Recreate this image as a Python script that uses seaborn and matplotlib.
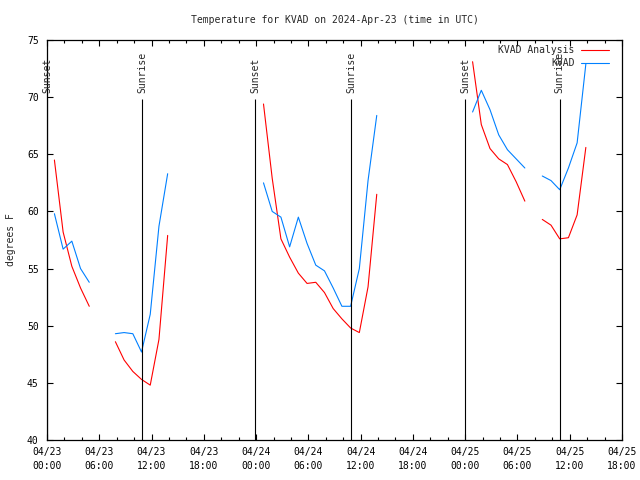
import numpy as np
import pandas as pd
import matplotlib
matplotlib.use('Agg')
import matplotlib.pyplot as plt
import matplotlib.dates as mdates
import seaborn as sns

# hourly observations starting 04/23 00:51 UTC, nan = missing
first_obs = '2024-04-23 00:51'
analysis_f = [64.5, 58.2, 55.2, 53.3, 51.7, np.nan, np.nan,
              48.6, 47.0, 46.0, 45.3, 44.8, 48.8, 57.9,
              np.nan, np.nan, np.nan, np.nan, np.nan, np.nan, np.nan, np.nan, np.nan, np.nan,
              69.4, 62.9, 57.6, 56.0, 54.6, 53.7, 53.8, 52.9, 51.5, 50.6, 49.8, 49.4, 53.4, 61.5,
              np.nan, np.nan, np.nan, np.nan, np.nan, np.nan, np.nan, np.nan, np.nan, np.nan,
              73.1, 67.6, 65.5, 64.6, 64.1, 62.6, 60.9, np.nan,
              59.3, 58.8, 57.6, 57.7, 59.7, 65.6]
observed_f = [59.8, 56.7, 57.4, 55.0, 53.8, np.nan, np.nan,
              49.3, 49.4, 49.3, 47.7, 51.0, 58.7, 63.3,
              np.nan, np.nan, np.nan, np.nan, np.nan, np.nan, np.nan, np.nan, np.nan, np.nan,
              62.5, 60.0, 59.5, 56.9, 59.5, 57.2, 55.3, 54.8, 53.3, 51.7, 51.7, 55.0, 62.7, 68.4,
              np.nan, np.nan, np.nan, np.nan, np.nan, np.nan, np.nan, np.nan, np.nan, np.nan,
              68.7, 70.6, 68.9, 66.7, 65.4, 64.6, 63.8, np.nan,
              63.1, 62.7, 61.9, 63.8, 66.0, 72.9]
series_names = ['KVAD Analysis', 'KVAD']
series_colors = ['#ff0000', '#0080ff']

sun_times = ['2024-04-23 00:00', '2024-04-23 10:56', '2024-04-23 23:55',
             '2024-04-24 10:56', '2024-04-25 00:00', '2024-04-25 10:52']
sun_labels = ['Sunset', 'Sunrise', 'Sunset', 'Sunrise', 'Sunset', 'Sunrise']

times = pd.date_range(first_obs, periods=len(analysis_f), freq='h')
frames = []
for name, vals in zip(series_names, [analysis_f, observed_f]):
    s = pd.Series(vals, index=times)
    seg = s.isna().cumsum()
    part = pd.DataFrame({'time': times, 'temp': s.values, 'seg': seg.values, 'series': name})
    frames.append(part.dropna())
df = pd.concat(frames, ignore_index=True)

sns.set_theme(style='ticks')
plt.rcParams['font.family'] = ['DejaVu Sans Mono']
plt.rcParams['font.size'] = 7

fig = plt.figure(figsize=(6.4, 4.8), dpi=100)
ax = fig.add_axes([47 / 640, 40 / 480, 575 / 640, 400 / 480])

sns.lineplot(data=df, x='time', y='temp', hue='series', units='seg', estimator=None,
             palette=dict(zip(series_names, series_colors)), linewidth=0.8,
             legend=False, ax=ax)

# sunrise / sunset markers
for t, lab in zip(sun_times, sun_labels):
    xv = mdates.date2num(pd.Timestamp(t))
    ax.vlines(xv, 40, 69.8, color='black', linewidth=0.8)
    ax.text(xv, 70.4, lab, rotation=90, ha='center', va='bottom', fontsize=7)

ax.set_xlim(pd.Timestamp('2024-04-23 00:00'), pd.Timestamp('2024-04-25 18:00'))
ax.set_ylim(40, 75)
ax.set_yticks(range(40, 76, 5))
ax.xaxis.set_major_locator(mdates.HourLocator(byhour=[0, 6, 12, 18]))
ax.xaxis.set_minor_locator(mdates.HourLocator(byhour=range(0, 24, 2)))
ax.xaxis.set_major_formatter(mdates.DateFormatter('%m/%d\n%H:%M'))
for lab in ax.get_xticklabels():
    lab.set_linespacing(1.45)
ax.tick_params(which='both', direction='in', top=True, right=True, colors='black')
ax.tick_params(which='major', length=4, width=0.8, labelsize=7)
ax.tick_params(which='minor', length=2.5, width=0.8)
ax.tick_params(axis='x', pad=5)
ax.tick_params(axis='y', pad=6)
for sp in ax.spines.values():
    sp.set_color('black')
    sp.set_linewidth(0.9)
    sp.set_visible(True)

ax.set_xlabel('')
ax.set_ylabel('degrees F', fontsize=7, labelpad=8)
ax.set_title('Temperature for KVAD on 2024-Apr-23 (time in UTC)', fontsize=7, pad=12)

# gnuplot style key: right aligned text followed by a line sample
for i, (name, col) in enumerate(zip(series_names, series_colors)):
    yk = 0.975 - i * 0.0325
    ax.text(0.918, yk, name, transform=ax.transAxes, ha='right', va='center', fontsize=7)
    ax.plot([0.929, 0.977], [yk, yk], color=col, linewidth=0.8, transform=ax.transAxes)

fig.savefig('out.png', dpi=100)
